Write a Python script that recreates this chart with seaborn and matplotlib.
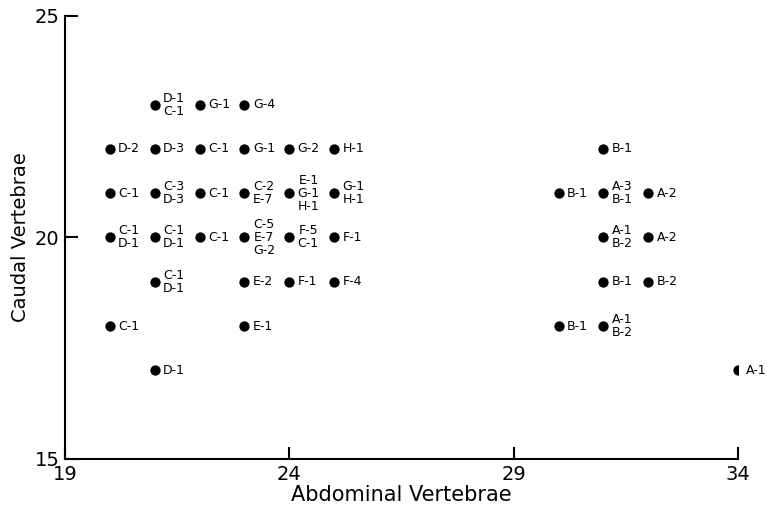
import pandas as pd
import seaborn as sns
import matplotlib.pyplot as plt

# abdominal vs caudal vertebrae counts, label = population-count
abdominal = [20, 20, 20, 20,
             21, 21, 21, 21, 21, 21,
             22, 22, 22, 22,
             23, 23, 23, 23, 23, 23,
             24, 24, 24, 24,
             25, 25, 25, 25,
             30, 30,
             31, 31, 31, 31, 31,
             32, 32, 32,
             34]
caudal = [22, 21, 20, 18,
          23, 22, 21, 20, 19, 17,
          23, 22, 21, 20,
          23, 22, 21, 20, 19, 18,
          22, 21, 20, 19,
          22, 21, 20, 19,
          21, 18,
          22, 21, 20, 19, 18,
          21, 20, 19,
          17]
labels = ["D-2", "C-1", "C-1\nD-1", "C-1",
          "D-1\nC-1", "D-3", "C-3\nD-3", "C-1\nD-1", "C-1\nD-1", "D-1",
          "G-1", "C-1", "C-1", "C-1",
          "G-4", "G-1", "C-2\nE-7", "C-5\nE-7\nG-2", "E-2", "E-1",
          "G-2", "E-1\nG-1\nH-1", "F-5\nC-1", "F-1",
          "H-1", "G-1\nH-1", "F-1", "F-4",
          "B-1", "B-1",
          "B-1", "A-3\nB-1", "A-1\nB-2", "B-1", "A-1\nB-2",
          "A-2", "A-2", "B-2",
          "A-1"]

df = pd.DataFrame({"Abdominal Vertebrae": abdominal,
                   "Caudal Vertebrae": caudal,
                   "label": labels})

sns.set_style("ticks")
plt.rcParams['font.family'] = ['DejaVu Sans']
plt.rcParams['text.color'] = 'black'
plt.rcParams['axes.labelcolor'] = 'black'
plt.rcParams['xtick.color'] = 'black'
plt.rcParams['ytick.color'] = 'black'
plt.rcParams['axes.edgecolor'] = 'black'

fig = plt.figure(figsize=(7.73, 5.07), dpi=100)
ax = fig.add_axes([65 / 773, 1 - 459 / 507, (738 - 65) / 773, (459 - 16) / 507])

sns.scatterplot(data=df, x="Abdominal Vertebrae", y="Caudal Vertebrae",
                color="black", s=55, linewidth=0, legend=False, ax=ax)

for _, r in df.iterrows():
    ax.annotate(r["label"], (r["Abdominal Vertebrae"], r["Caudal Vertebrae"]),
                xytext=(6, 0), textcoords="offset points",
                ha="left", va="center", multialignment="center",
                fontsize=9, linespacing=1.0, annotation_clip=False)

ax.set_xlim(19, 34)
ax.set_ylim(15, 25)
ax.set_xticks([19, 24, 29, 34])
ax.set_yticks([15, 20, 25])
ax.tick_params(direction="in", length=9, width=1.5, labelsize=14, pad=4)
for s in ["left", "bottom"]:
    ax.spines[s].set_linewidth(1.5)
sns.despine(ax=ax)

ax.set_xlabel("Abdominal Vertebrae", fontsize=15, labelpad=1)
ax.set_ylabel("Caudal Vertebrae", fontsize=14, labelpad=3)

fig.savefig("out.png", dpi=100)
